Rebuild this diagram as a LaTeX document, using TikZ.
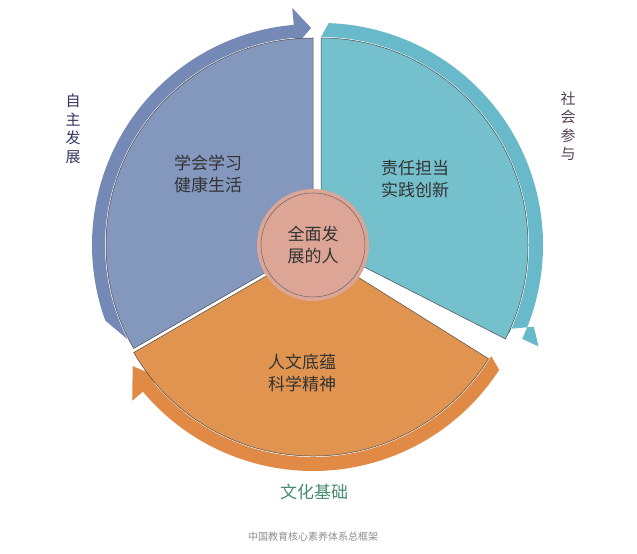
\documentclass[tikz,border=0pt]{standalone}
\usepackage{fontspec}
\newfontfamily\cjk{Noto Sans CJK SC}
\definecolor{blueS}{HTML}{8497BC}
\definecolor{blueB}{HTML}{7489B5}
\definecolor{tealS}{HTML}{74C0CC}
\definecolor{tealB}{HTML}{68B9CA}
\definecolor{orS}{HTML}{E0944F}
\definecolor{orB}{HTML}{E08A46}
\definecolor{pinkC}{HTML}{DCA595}
\tikzset{
 sector/.style={draw=black!70,line width=0.5pt},
 lbl/.style={font=\cjk\fontsize{17}{22}\selectfont,text=black!80,align=center},
 side/.style={font=\cjk\fontsize{15}{18.5}\selectfont,align=center}
}
\begin{document}
\begin{tikzpicture}[x=1pt,y=1pt]
\useasboundingbox[fill=white] (0,0) rectangle (637,554);
\coordinate (c) at (313,309);
\coordinate (ct) at (321,309);
\coordinate (co) at (313,305);
% blue band
\fill[blueB] ([shift={(207:208)}]c) arc[start angle=207,end angle=95,radius=208]
  -- ([shift={(95:200)}]c) -- ([shift={(90.5:217)}]c) -- ([shift={(95:238)}]c)
  -- ([shift={(95:221)}]c) arc[start angle=95,end angle=200,radius=221] -- cycle;
% teal band
\fill[tealB] ([shift={(90:208)}]ct) arc[start angle=90,end angle=-25,radius=208]
  -- ([shift={(-25:200)}]ct) -- ([shift={(-21:228)}]ct) -- ([shift={(-25:240)}]ct)
  -- ([shift={(-25:222)}]ct) arc[start angle=-25,end angle=88,radius=222] -- cycle;
% orange band
\fill[orB] ([shift={(-31:208)}]co) arc[start angle=-31,end angle=-140,radius=208]
  -- ([shift={(-140:200)}]co) -- ([shift={(-147:215)}]co) -- ([shift={(-140:236)}]co)
  -- ([shift={(-140:222)}]co) arc[start angle=-140,end angle=-33,radius=222] -- cycle;
% sectors
\draw[sector,fill=blueS] (c) -- ([shift={(90:207)}]c) arc[start angle=90,end angle=210,radius=207] -- cycle;
\draw[sector,fill=tealS] (ct) -- ([shift={(90:207)}]ct) arc[start angle=90,end angle=-27,radius=207] -- cycle;
\draw[sector,fill=orS] (co) -- ([shift={(-150:207)}]co) arc[start angle=-150,end angle=-32,radius=207] -- cycle;
% center
\node[circle,fill=pinkC,minimum size=112pt,inner sep=0] (hub) at (c) {};
\draw[black!60,line width=0.5pt] (c) circle[radius=52];
\node[lbl] (h) at (c) {全面发\\展的人};
\node[lbl] (b) at (208,380) {学会学习\\健康生活};
\node[lbl] (t) at (415,375) {责任担当\\实践创新};
\node[lbl] (o) at (302,181) {人文底蕴\\科学精神};
\node[side,text=black!70!blue!60!gray] (l1) at (73,425) {自\\主\\发\\展};
\node[side,text=black!60!violet!50!gray] (l2) at (568,428) {社\\会\\参\\与};
\node[font=\cjk\fontsize{17}{20}\selectfont,text={rgb,255:red,70;green,140;blue,110}] (l3) at (314,62) {文化基础};
\node[font=\cjk\fontsize{10}{12}\selectfont,text=black!45] (cap) at (313,17) {中国教育核心素养体系总框架};
\end{tikzpicture}
\end{document}
